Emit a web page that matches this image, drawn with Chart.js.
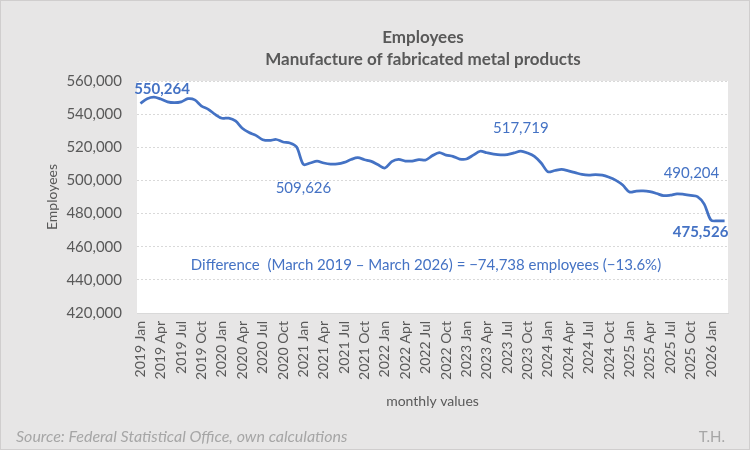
<!DOCTYPE html>
<html>
<head>
<meta charset="utf-8">
<script src="https://cdn.jsdelivr.net/npm/chart.js@4"></script>
<style>
  html, body { margin: 0; padding: 0; background: #fff; overflow: hidden; }
  canvas { display: block; }
</style>
</head>
<body>
<canvas id="chart" width="752" height="452"></canvas>
<script>
// monthly employees, Jan 2019 .. Mar 2026
const years = [2019, 2020, 2021, 2022, 2023, 2024, 2025, 2026]
const monthNames = ['Jan', 'Feb', 'Mar', 'Apr', 'May', 'Jun', 'Jul', 'Aug', 'Sep', 'Oct', 'Nov', 'Dec']
const employees = [
  546500, 549300, 550264, 549100, 547400, 546900, 547400, 549300, 548600, 544900, 542900, 539800,
  537500, 537600, 535900, 531500, 528900, 527200, 524600, 524100, 524700, 523200, 522600, 520200,
  509626, 510500, 511600, 510500, 509900, 510000, 510900, 512600, 513700, 512500, 511500, 509400,
  507500, 511300, 512700, 511700, 511700, 512600, 512300, 515000, 516800, 515300, 514500, 512900,
  512900, 515300, 517600, 516700, 515900, 515400, 515600, 516600, 517719, 516500, 514500, 510500,
  505200, 506000, 506700, 505800, 504700, 503600, 503200, 503500, 503200, 501900, 500000, 497200,
  493000, 493600, 493700, 493200, 492100, 490800, 491100, 491900, 491600, 491000, 490204, 485700,
  476000, 475600, 475526,
]
// points that carry a value label, and which of them are bold
const markedIdx = [2, 24, 56, 82, 86]
const boldIdx = [2, 86]
// the two months compared in the note (March 2019, March 2026)
const fromIdx = 2
const toIdx = 86

const labels = []
years.forEach(y => monthNames.forEach(m => labels.push(y + ' ' + m)))
labels.length = employees.length

const FONT = 'Lato, "Open Sans", sans-serif'
const fmt = v => v.toLocaleString('en-US')
const minus = s => String(s).replace('-', '\u2212')

const decor = {
  id: 'decor',
  beforeDraw(chart) {
    const { ctx, chartArea: a } = chart
    ctx.save()
    ctx.fillStyle = '#fff'
    ctx.fillRect(0, 0, 752, 452)
    ctx.fillStyle = '#e7e6e6'
    ctx.fillRect(0, 0, 750, 450)
    ctx.strokeStyle = '#d0cece'
    ctx.lineWidth = 1
    ctx.strokeRect(0.5, 0.5, 749, 449)
    ctx.fillStyle = '#fff'
    ctx.fillRect(a.left, a.top, a.right - a.left, a.bottom - a.top)
    ctx.restore()
  },
  afterDraw(chart) {
    const { ctx } = chart
    const xs = chart.scales.x
    const ys = chart.scales.y
    ctx.save()
    ctx.textAlign = 'center'
    ctx.textBaseline = 'middle'

    // title
    ctx.fillStyle = '#595959'
    ctx.font = 'bold 17px ' + FONT
    ctx.fillText('Employees', 423, 38)
    ctx.fillText('Manufacture of fabricated metal products', 423, 60)

    // value labels
    const offsets = { 2: [8, -8], 24: [0, 24], 56: [0, -23], 82: [-6, -24], 86: [-24, 11] }
    ctx.fillStyle = '#4472c4'
    markedIdx.forEach(i => {
      const bold = boldIdx.includes(i)
      ctx.font = (bold ? 'bold 15px ' : '15px ') + FONT
      const off = offsets[i] || [0, -20]
      ctx.fillText(fmt(employees[i]), xs.getPixelForValue(i) + off[0], ys.getPixelForValue(employees[i]) + off[1])
    })

    // difference note
    const diff = employees[toIdx] - employees[fromIdx]
    const pct = (diff / employees[fromIdx] * 100).toFixed(1)
    const y0 = labels[fromIdx].split(' ')[0]
    const y1 = labels[toIdx].split(' ')[0]
    ctx.font = '15px ' + FONT
    ctx.fillText('Difference  (March ' + y0 + ' \u2013 March ' + y1 + ') = ' + minus(fmt(diff)) +
      ' employees (' + minus(pct) + '%)', 426, 265)

    // footer
    ctx.fillStyle = '#a6a6a6'
    ctx.font = 'italic 16px ' + FONT
    ctx.textAlign = 'left'
    ctx.fillText('Source: Federal Statistical Office, own calculations', 16, 437)
    ctx.font = '15px ' + FONT
    ctx.textAlign = 'right'
    ctx.fillText('T.H.', 725, 437)
    ctx.restore()
  },
}

new Chart(document.getElementById('chart'), {
  type: 'line',
  data: {
    labels: labels,
    datasets: [
      {
        data: employees,
        borderColor: '#4472c4',
        borderWidth: 2.75,
        pointRadius: 0,
        tension: 0.3,
        fill: false,
      },
    ],
  },
  options: {
    responsive: false,
    animation: false,
    devicePixelRatio: 1,
    layout: { padding: { top: 81, left: 40, right: 24, bottom: 39 } },
    plugins: {
      legend: { display: false },
      title: { display: false },
      tooltip: { enabled: false },
    },
    scales: {
      x: {
        offset: true,
        grid: { display: false, drawTicks: false },
        border: { display: true, color: '#d9d9d9' },
        ticks: {
          autoSkip: false,
          minRotation: 90,
          maxRotation: 90,
          padding: 8,
          color: '#595959',
          font: { family: FONT, size: 14 },
          callback: (v, i) => (i % 3 === 0 ? labels[i] : ''),
        },
        title: {
          display: true,
          text: 'monthly values',
          color: '#595959',
          font: { family: FONT, size: 14 },
          padding: { top: 0, bottom: 3 },
        },
        afterFit: s => { s.height = 100 },
      },
      y: {
        min: 420000,
        max: 560000,
        grid: { color: '#d9d9d9', drawTicks: false, lineWidth: 1 },
        border: { display: false, dash: [2, 2] },
        ticks: {
          stepSize: 20000,
          padding: 15,
          color: '#595959',
          font: { family: FONT, size: 15 },
          callback: v => fmt(v),
        },
        title: {
          display: true,
          text: 'Employees',
          color: '#595959',
          font: { family: FONT, size: 14 },
          padding: { top: 4, bottom: 0 },
        },
        afterFit: s => { s.width = 97 },
      },
    },
  },
  plugins: [decor],
})
</script>
</body>
</html>
